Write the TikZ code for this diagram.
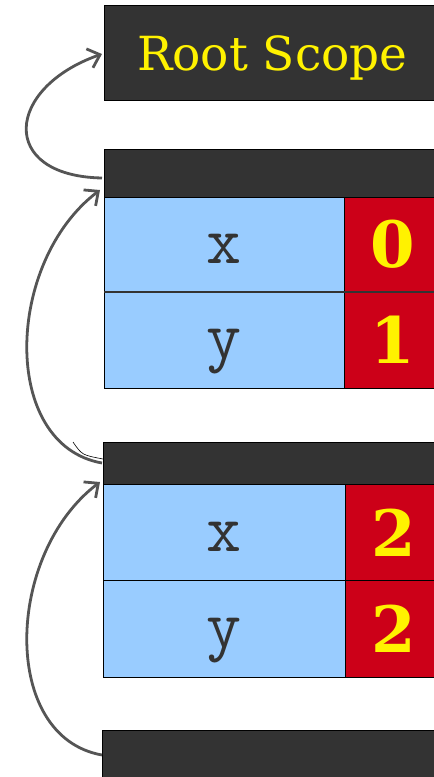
\documentclass[tikz,border=0pt]{standalone}
\usepackage{fontspec}
\usetikzlibrary{arrows.meta}
\setmainfont{DejaVu Serif}
\definecolor{hdrgray}{HTML}{333333}
\definecolor{cellblue}{HTML}{99CCFF}
\definecolor{cellred}{HTML}{CC0018}
\definecolor{arrgray}{HTML}{555555}
\tikzset{
  cell/.style={draw=black, line width=0.8pt, anchor=north west, inner sep=0pt},
  hdr/.style={cell, fill=hdrgray, minimum width=336pt},
  namecell/.style={cell, fill=cellblue, text=hdrgray, text height=38pt, text depth=0pt, font=\ttfamily\fontsize{68}{70}\selectfont},
  valcell/.style={cell, fill=cellred, text=yellow, minimum width=96pt, font=\bfseries\fontsize{64}{70}\selectfont},
  link/.style={draw=arrgray, line width=2.8pt, -{Straight Barb[length=11pt,width=20pt]}}
}
\begin{document}
\begin{tikzpicture}[x=1pt,y=-1pt]
\useasboundingbox (0,0) rectangle (434,777);
\clip (0,0) rectangle (434,777);
% root scope
\node[hdr, minimum height=95pt, text=yellow, text depth=0pt, font=\fontsize{47}{60}\selectfont] (root) at (104,5) {Root Scope};
% frame 1
\node[hdr, minimum height=48pt] (hdrA) at (104,149) {};
\node[namecell, minimum width=240pt, minimum height=94pt] (xA) at (104,197) {x};
\node[valcell, minimum height=94pt] (xvalA) at (344,197) {0};
\node[namecell, minimum width=240pt, minimum height=97pt] (yA) at (104,291) {y};
\node[valcell, minimum height=97pt] (yvalA) at (344,291) {1};
\draw[hdrgray, line width=2.5pt] (xA.south west) -- (xvalA.south east);
% frame 2
\node[hdr, minimum height=42pt] (hdrB) at (103,442) {};
\node[namecell, minimum width=242pt, minimum height=96pt] (xB) at (103,484) {x};
\node[valcell, minimum height=96pt] (xvalB) at (345,484) {2};
\node[namecell, minimum width=242pt, minimum height=97pt] (yB) at (103,580) {y};
\node[valcell, minimum height=97pt] (yvalB) at (345,580) {2};
% frame 3
\node[hdr, minimum height=50pt] (hdrC) at (102,730) {};
% parent links
\coordinate (outA) at (102,178);
\coordinate (inRoot) at (102,54);
\coordinate (outB) at (102,463);
\coordinate (inA) at (100,190);
\coordinate (outC) at (102,755);
\coordinate (inB) at (100,482);
\draw[link] (outA) .. controls (-2,176) and (5,88) .. (inRoot);
\draw[link] (outB) .. controls (0,445) and (5,262) .. (inA);
\draw[link] (outC) .. controls (0,737) and (5,554) .. (inB);
\draw[black, line width=0.6pt] (73,442) .. controls (82,455) .. (hdrB.west |- 0,459);
\end{tikzpicture}
\end{document}
